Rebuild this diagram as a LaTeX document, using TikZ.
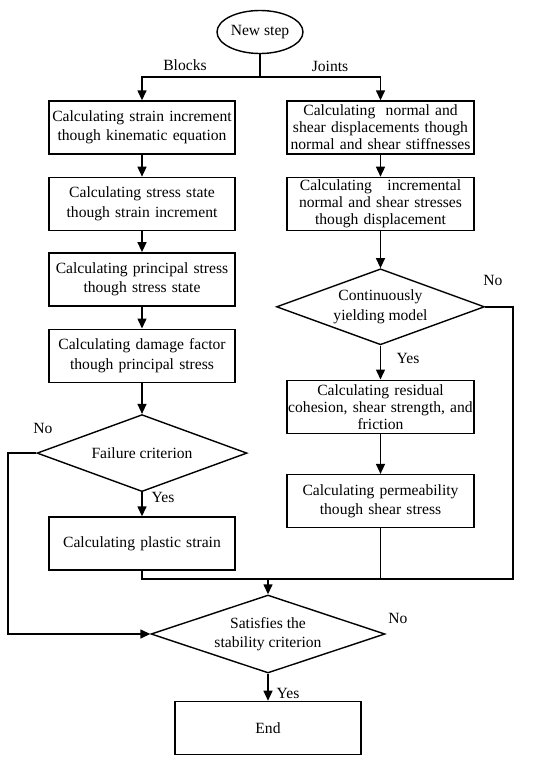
\documentclass[tikz,border=0pt]{standalone}
\usepackage{fontspec}
\setmainfont{Liberation Serif}
\usetikzlibrary{positioning,arrows.meta,shapes.geometric}

\begin{document}
\begin{tikzpicture}[
  x=1pt, y=-1pt,
  font=\fontsize{15.6}{19.3}\selectfont,
  line width=1.4pt,
  term/.style={draw, ellipse, inner sep=0pt, minimum width=86pt, minimum height=43pt},
  proc/.style={draw, align=center, inner sep=1pt, text width=184pt, minimum height=53pt},
  proc3/.style={proc, text width=185pt, font=\fontsize{15.6}{17}\selectfont},
  test/.style={draw, diamond, align=center, inner sep=0pt},
  arr/.style={-{Triangle[length=10pt,width=9pt]}}
]
  \useasboundingbox (0,0) rectangle (550,764);
  % start and the two branches
  \node[term] (start) at (260,32) {New step};
  \coordinate (split) at (260,77);
  \node (lblocks) at (185,65) {Blocks};
  \node (ljoints) at (330,66) {Joints};
  % blocks column
  \node[proc] (b1) at (142,127.5) {Calculating strain increment\\though kinematic equation};
  \node[proc, below=22pt of b1] (b2) {Calculating stress state\\though strain increment};
  \node[proc, below=21pt of b2] (b3) {Calculating principal stress\\though stress state};
  \node[proc, below=22pt of b3] (b4) {Calculating damage factor\\though principal stress};
  \node[test, shape aspect=2.73, minimum width=210pt, minimum height=77pt, below=31pt of b4] (fail) {Failure criterion};
  \node[proc, below=24pt of fail] (b5) {Calculating plastic strain};
  % joints column
  \node[proc3] (j1) at (380.5,127.5) {Calculating\ \ normal and\\shear displacements though\\normal and shear stiffnesses};
  \node[proc3, below=22pt of j1] (j2) {Calculating\ \ \ incremental\\normal and shear stresses\\though displacement};
  \node[test, shape aspect=2.74, minimum width=208pt, minimum height=76pt, below=37pt of j2] (yield) {Continuously\\yielding model};
  \node[proc3, below=34pt of yield] (j3) {Calculating residual\\cohesion, shear strength, and\\friction};
  \node[proc, text width=185pt, below=40pt of j3] (j4) {Calculating permeability\\though shear stress};
  % stability check
  \node[test, shape aspect=3, minimum width=234pt, minimum height=78pt] (stab) at (268,634) {Satisfies the\\stability criterion};
  \node[proc, below=27pt of stab] (stop) {End};
  \coordinate (merge) at (513,579);
  \coordinate (loop) at (8,634);
  % labels
  \node (lno1) at (493,280) {No};
  \node (lyes1) at (408,358) {Yes};
  \node (lno2) at (43,428) {No};
  \node (lyes2) at (163,497) {Yes};
  \node (lno3) at (398,618) {No};
  \node (lyes3) at (288,693) {Yes};
  % connectors
  \draw (start) -- (split);
  \draw[arr] (split) -| (b1);
  \draw[arr] (split) -| (j1);
  \draw[arr] (b1) -- (b2);
  \draw[arr] (b2) -- (b3);
  \draw[arr] (b3) -- (b4);
  \draw[arr] (b4) -- (fail);
  \draw[arr] (fail) -- (b5);
  \draw[arr] (j1) -- (j2);
  \draw[arr] (j2) -- (yield);
  \draw[arr] (yield) -- (j3);
  \draw[arr] (j3) -- (j4);
  \draw (b5.south) |- (merge) |- (yield.east);
  \draw (j4.south) -- (j4 |- merge);
  \draw[arr] (stab |- merge) -- (stab);
  \draw[arr] (fail.west) -| (loop) -- (stab.west);
  \draw[arr] (stab) -- (stop);
\end{tikzpicture}
\end{document}
